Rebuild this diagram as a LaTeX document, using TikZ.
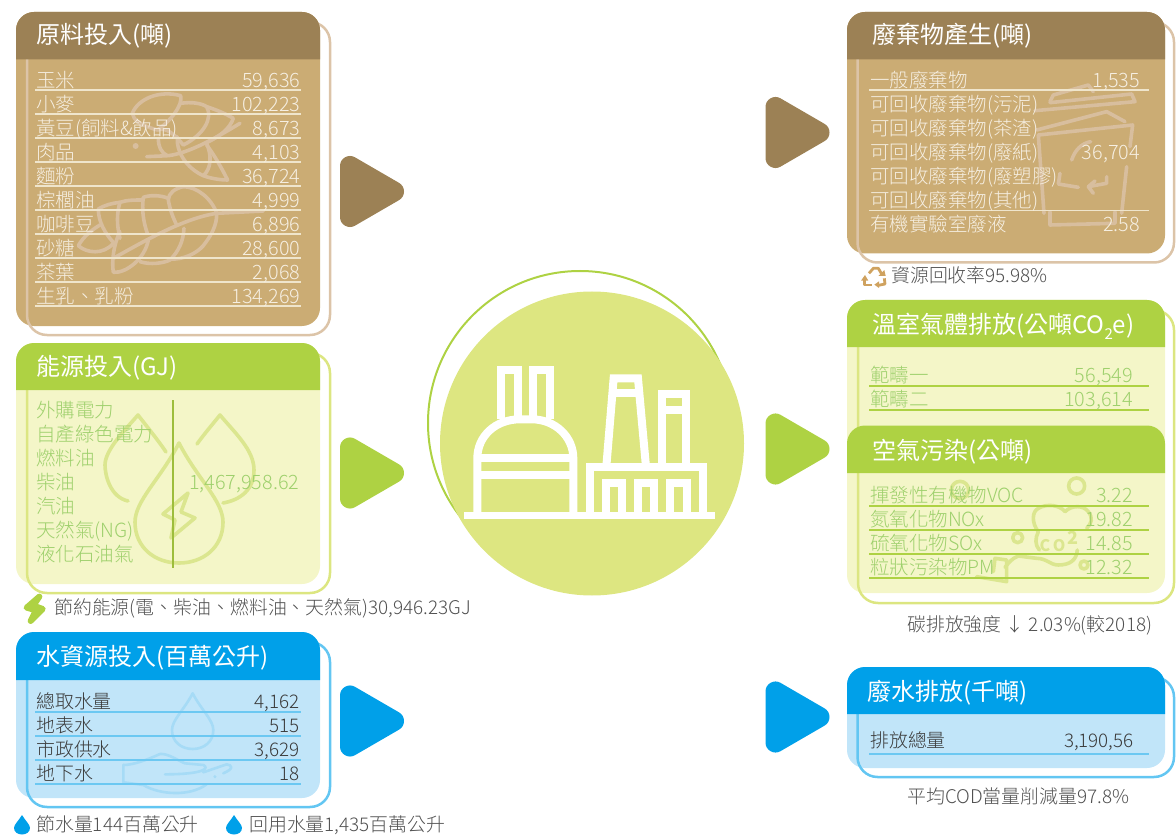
\documentclass[tikz,border=0pt]{standalone}
\usepackage{fontspec}
\usetikzlibrary{calc}
\setmainfont{Noto Sans CJK TC Light}
\newfontfamily\hdfont{Noto Sans CJK TC}
\definecolor{brH}{HTML}{9C8155}\definecolor{brB}{HTML}{CBAC74}\definecolor{brO}{HTML}{DCC4A8}\definecolor{brW}{HTML}{D8BE9E}\definecolor{brT}{HTML}{F6EFE2}\definecolor{brL}{HTML}{EFE5CC}
\definecolor{grH}{HTML}{AED243}\definecolor{grB}{HTML}{F4F6C8}\definecolor{grO}{HTML}{DCE681}\definecolor{grW}{HTML}{DBE68F}\definecolor{grT}{HTML}{9ED06C}\definecolor{grL}{HTML}{AED243}
\definecolor{blH}{HTML}{00A0E9}\definecolor{blB}{HTML}{C1E5F9}\definecolor{blO}{HTML}{63C6F2}\definecolor{blW}{HTML}{A6DBF6}\definecolor{blT}{HTML}{3A3A3A}\definecolor{blL}{HTML}{6CC8F2}
\definecolor{circ}{HTML}{DDE681}\definecolor{gtxt}{HTML}{505050}\definecolor{recy}{HTML}{CFA25F}
\newcommand{\panelbg}[8]{%
  \fill[#1,rounded corners=18pt] (#2,#4) rectangle (#3,#5);
  \draw[#8,line width=2.5pt,rounded corners=20pt] (#6,{#4+10}) rectangle (#7,{#5+9});}
\newcommand{\headbar}[5]{\fill[#1] (#2,#5) [rounded corners=18pt] -- (#2,#4) -- (#3,#4) [sharp corners] -- (#3,#5) -- cycle;}
\newcommand{\tri}[3]{\draw[#1,fill=#1,line width=20pt,line join=round] ({#2+10},{#3-25.5}) -- ({#2+54},#3) -- ({#2+10},{#3+25.5}) -- cycle;}
\newcommand{\dropp}[4]{({#1},{#2}) .. controls ({#1+.42*#3},{#2+.3*#4}) and ({#1+#3},{#2+.48*#4}) .. ({#1+#3},{#2+.66*#4}) .. controls ({#1+#3},{#2+.87*#4}) and ({#1+.55*#3},{#2+#4}) .. ({#1},{#2+#4}) .. controls ({#1-.55*#3},{#2+#4}) and ({#1-#3},{#2+.87*#4}) .. ({#1-#3},{#2+.66*#4}) .. controls ({#1-#3},{#2+.48*#4}) and ({#1-.42*#3},{#2+.3*#4}) .. ({#1},{#2}) -- cycle}
\begin{document}
\begin{tikzpicture}[x=1pt,y=-1pt,
  lab/.style={anchor=base west,inner sep=0pt,font=\fontsize{19.5}{21}\selectfont},
  val/.style={anchor=base east,inner sep=0pt,font=\fontsize{19.8}{21}\selectfont},
  blab/.style={anchor=base west,inner sep=0pt,text=blT,font=\fontsize{18.9}{21}\selectfont},
  bval/.style={anchor=base east,inner sep=0pt,text=blT,font=\fontsize{18.8}{21}\selectfont},
  head/.style={anchor=base west,inner sep=0pt,text=white,font=\hdfont\fontsize{24}{26}\selectfont},
  note/.style={anchor=base west,inner sep=0pt,text=gtxt,font=\fontsize{18.9}{21}\selectfont},
  zs/.style={x=.3333pt,y=-.3333pt},
  wm/.style={line width=3.6pt,line join=round,line cap=round}]
\useasboundingbox (0,0) rectangle (1176,837);

% ---------- raw materials
\panelbg{brB}{16}{320}{12}{326}{27}{330}{brO}
\begin{scope}[shift={(70,85)},zs,brW,wm]
  \draw (230,215) -- (295,212) .. controls (350,205) and (420,170) .. (510,115);
  \draw (262,135) .. controls (210,120) and (190,105) .. (187,85) .. controls (205,40) and (270,15) .. (332,32) .. controls (340,60) and (300,110) .. (262,135);
  \draw (332,55) .. controls (365,50) and (395,55) .. (410,65) .. controls (430,100) and (400,150) .. (340,180) .. controls (315,150) and (290,125) .. (262,135);
  \draw (410,65) .. controls (440,75) and (465,85) .. (490,100) .. controls (480,130) and (450,155) .. (405,175);
  \draw (265,160) .. controls (265,185) and (275,205) .. (292,212);
  \draw (322,155) .. controls (318,200) and (350,250) .. (400,272) .. controls (425,250) and (425,210) .. (410,175);
  \draw (410,180) .. controls (440,220) and (460,260) .. (473,285) .. controls (450,285) and (420,280) .. (400,272);
  \fill (197,183) circle[radius=9];
  \draw (580,378) -- (440,385) .. controls (340,400) and (220,470) .. (130,520);
  \draw (440,385) .. controls (425,340) and (380,305) .. (340,305) .. controls (315,310) and (295,325) .. (295,345) .. controls (300,375) and (310,400) .. (320,420);
  \draw (295,340) .. controls (270,330) and (240,330) .. (220,337) .. controls (215,375) and (220,410) .. (232,445);
  \draw (220,345) .. controls (195,345) and (170,345) .. (150,352) .. controls (140,385) and (140,420) .. (150,460);
  \draw (150,352) .. controls (125,355) and (105,360) .. (85,372) .. controls (85,410) and (105,445) .. (130,472);
  \draw (90,420) .. controls (65,435) and (40,455) .. (25,482) .. controls (50,505) and (100,510) .. (130,475);
  \draw (150,440) .. controls (130,480) and (125,530) .. (130,562) .. controls (170,565) and (225,520) .. (235,465);
  \draw (210,530) .. controls (240,540) and (280,535) .. (300,525) .. controls (325,500) and (340,470) .. (342,430);
  \draw (300,522) .. controls (340,525) and (380,505) .. (400,482) .. controls (425,450) and (440,420) .. (440,390);
\end{scope}
\headbar{brH}{16}{320}{12}{59.5}
\node[head] (h1) at (36,43.5) {原料投入(噸)};
\foreach \i/\l/\v in {1/玉米/{59,636},2/小麥/{102,223},3/黃豆(飼料\&飲品)/{8,673},4/肉品/{4,103},5/麵粉/{36,724},6/棕櫚油/{4,999},7/咖啡豆/{6,896},8/砂糖/{28,600},9/茶葉/{2,068},10/生乳、乳粉/{134,269}}{
  \pgfmathsetmacro\yy{66+24*\i}
  \draw[brL,line width=1.5pt] (35,\yy) -- (301,\yy);
  \node[lab,text=brT] (ml\i) at (36,{\yy-2.5}) {\l};
  \node[val,text=brT] (mv\i) at (300.5,{\yy-2.5}) {\v};
}
\tri{brH}{340}{191.5}

% ---------- energy
\panelbg{grB}{16}{320}{343}{584}{27}{330}{grO}
\begin{scope}[grW,wm]
  \draw \dropp{179}{443}{44}{120};
  \draw (128,501) .. controls (110,497) and (105,475) .. (105,465) .. controls (105,450) and (125,430) .. (138,415) .. controls (148,428) and (158,440) .. (166,452);
  \draw (197,444) .. controls (205,433) and (212,425) .. (220,415) .. controls (235,433) and (254,450) .. (254,470) .. controls (254,490) and (240,500) .. (223,503);
  \draw (188,493) -- (163,514) -- (175,520) -- (171,538) -- (195,518) -- (181,512) -- cycle;
\end{scope}
\headbar{grH}{16}{320}{343}{390}
\node[head] (h2) at (36,375.5) {能源投入(GJ)};
\foreach \i/\l in {1/外購電力,2/自產綠色電力,3/燃料油,4/柴油,5/汽油,6/天然氣(NG),7/液化石油氣}{
  \pgfmathsetmacro\yy{393.5+24*\i}
  \node[lab,text=grT] (el\i) at (36,\yy) {\l};
}
\node[val,text=grT] (ev) at (299.5,489.5) {1,467,958.62};
\draw[grL!90!black,line width=1.5pt] (173,400) -- (173,567.5);
\tri{grH}{340}{473}
\begin{scope}[shift={(0,335)},zs]
  \draw[grH,fill=grH,line width=6pt,line join=round] (118,785) -- (80,818) -- (108,826) -- (92,858) -- (128,822) -- (100,812) -- cycle;
\end{scope}
\node[note] (n1) at (54,614.5) {節約能源(電、柴油、燃料油、天然氣)30,946.23GJ};

% ---------- water
\panelbg{blB}{16}{320}{632}{798}{27}{330}{blO}
\begin{scope}[shift={(110,685)},zs,blW,wm,line width=2.6pt]
  \draw \dropp{248}{25}{62}{167};
  \draw (40,240) .. controls (70,240) and (110,225) .. (150,207) .. controls (175,205) and (200,225) .. (225,235) -- (280,240) .. controls (300,250) and (280,268) .. (165,268);
  \draw (280,262) -- (350,238) .. controls (365,240) and (375,250) .. (340,265);
  \draw (40,240) -- (40,292) -- (100,300) .. controls (150,330) and (240,335) .. (290,298);
  \fill (315,275) circle[radius=5];
\end{scope}
\headbar{blH}{16}{320}{632}{680}
\node[head] (h3) at (36,665.5) {水資源投入(百萬公升)};
\foreach \i/\l/\v in {1/總取水量/{4,162},2/地表水/515,3/市政供水/{3,629},4/地下水/18}{
  \pgfmathsetmacro\yy{688+24*\i}
  \draw[blL,line width=1.5pt] (35,\yy) -- (301,\yy);
  \node[blab] (wl\i) at (36,{\yy-3.5}) {\l};
  \node[bval] (wv\i) at (300,{\yy-3.5}) {\v};
}
\tri{blH}{340}{721}
\fill[blH] \dropp{22}{815}{8}{19.5};
\node[note] (n2) at (36,831) {節水量144百萬公升};
\fill[blH] \dropp{234}{815}{8}{19.5};
\node[note] (n3) at (249,831) {回用水量1,435百萬公升};

% ---------- centre
\draw[grH,line width=2pt] (580,423) circle[radius=152];
\fill[circ] (592,443.5) circle[radius=152];
\begin{scope}[shift={(420,260)},zs,white,line width=8pt,line join=miter]
  \fill (133,755) rectangle (885,778);
  \draw (172,760) -- (172,595) .. controls (172,530) and (225,478) .. (300,478) -- (335,478) .. controls (405,478) and (460,530) .. (460,595) -- (460,760);
  \draw (172,595) -- (460,595);
  \draw (172,645) -- (460,645);
  \draw (243.5,478) -- (243.5,331.5) -- (293,331.5) -- (293,470);
  \draw (340,470) -- (340,331.5) -- (390,331.5) -- (390,478);
  \draw (509,760) -- (509,620) -- (848,620) -- (848,760);
  \foreach \a/\b in {557/606,654/702,750/800}{\draw (\a,760) -- (\a,669) -- (\b,669) -- (\b,760);}
  \draw (559,620) -- (581,355) -- (654,355) -- (678,620);
  \draw (578,400) -- (656,400);
  \draw (725,620) -- (725,402) -- (798,402) -- (798,620);
  \draw (725,450) -- (798,450);
\end{scope}

% ---------- waste
\panelbg{brB}{847}{1165}{12}{253.5}{857.5}{1174}{brO}
\begin{scope}[shift={(1000,80)},zs,brW,wm]
  \draw (105,92) -- (405,65) -- (395,42) -- (150,68);
  \draw (150,65) -- (160,45) -- (265,15) -- (280,35);
  \draw (110,150) -- (320,95) -- (375,125);
  \draw (115,165) -- (398,135) -- (390,200);
  \draw (380,260) -- (365,400);
  \draw (115,165) -- (132,400);
  \draw (150,395) -- (150,435) -- (345,430) -- (345,395);
  \draw (215,240) .. controls (225,210) and (245,190) .. (272,185);
  \draw (180,280) -- (175,312) -- (235,322);
  \draw (320,290) -- (320,310) -- (265,320);
  \draw (285,303) -- (265,320) -- (280,340);
\end{scope}
\headbar{brH}{847}{1165}{12}{59.5}
\node[head] (h4) at (872,43.5) {廢棄物產生(噸)};
\draw[brL,line width=1.5pt] (869,90) -- (1148.5,90);
\draw[brL,line width=1.5pt] (869,210.5) -- (1148.5,210.5);
\foreach \i/\l in {1/一般廢棄物,2/可回收廢棄物(污泥),3/可回收廢棄物(茶渣),4/可回收廢棄物(廢紙),5/可回收廢棄物(廢塑膠),6/可回收廢棄物(其他),7/有機實驗室廢液}{
  \pgfmathsetmacro\yy{63.5+24*\i}
  \node[lab,text=brT] (rl\i) at (870,\yy) {\l};
}
\node[val,text=brT] (rv1) at (1140,87.5) {1,535};
\node[val,text=brT] (rv2) at (1140,159.5) {36,704};
\node[val,text=brT] (rv3) at (1140,231.5) {2.58};
\tri{brH}{765.5}{132.5}
\begin{scope}[shift={(855,260)},zs,recy,line width=2.8pt,line join=round]
  \draw (42,40) -- (55,25) -- (70,25) -- (80,42);
  \fill (70,48) -- (92,48) -- (88,30) -- cycle;
  \draw (28,58) -- (28,75) -- (50,75);
  \fill (18,62) -- (40,62) -- (30,45) -- cycle;
  \draw (88,55) -- (90,72) -- (70,76);
  \fill (72,64) -- (72,84) -- (58,74) -- cycle;
\end{scope}
\node[note] (n4) at (891,282.5) {資源回收率95.98\%};

% ---------- GHG + air
\fill[grB,rounded corners=18pt] (847,300) rectangle (1165,593);
\draw[grO,line width=2.5pt,rounded corners=20pt] (858,310) rectangle (1174,603);
\begin{scope}[shift={(930,470)},zs,grW,wm]
  \draw (440,48) circle[radius=24];
  \draw (263,203) circle[radius=15];
  \draw (462,285) circle[radius=12];
  \draw (90,60) circle[radius=26];
  \draw (325,185) .. controls (305,160) and (305,125) .. (325,115) .. controls (350,100) and (390,105) .. (405,125) .. controls (425,105) and (460,105) .. (475,125) .. controls (490,145) and (485,160) .. (470,175);
  \draw (325,185) .. controls (315,205) and (315,225) .. (328,240);
  \draw (442,240) .. controls (440,270) and (420,285) .. (385,285) .. controls (360,285) and (350,265) .. (320,265) -- (265,258) .. controls (245,265) and (235,280) .. (225,292);
  \draw (140,320) -- (230,335) -- (230,270) -- (195,265) -- (190,305);
\end{scope}
\node[text=grW,inner sep=0pt,font=\hdfont\bfseries\fontsize{16}{18}\selectfont] (co) at (1059,541.5) {C\,O\raisebox{7pt}{\kern2pt\fontsize{18}{18}\selectfont 2}};
\headbar{grH}{847}{1165}{300}{347}
\node[head] (h5) at (872,333.5) {溫室氣體排放(公噸CO\raisebox{-6pt}{\fontsize{15}{15}\selectfont 2}e)};
\foreach \i/\l/\v/\yy in {1/範疇一/{56,549}/386,2/範疇二/{103,614}/410}{
  \draw[grL,line width=1.5pt] (869,\yy) -- (1148.5,\yy);
  \node[lab,text=grT] (gl\i) at (870,{\yy-3.5}) {\l};
  \node[val,text=grT] (gv\i) at (1133,{\yy-3.5}) {\v};
}
\headbar{grH}{847}{1165}{425.5}{473}
\node[head] (h6) at (872,459) {空氣污染(公噸)};
\foreach \i/\l/\v in {1/揮發性有機物VOC/3.22,2/氮氧化物NOx/19.82,3/硫氧化物SOx/14.85,4/粒狀污染物PM/12.32}{
  \pgfmathsetmacro\yy{482+24*\i}
  \draw[grL,line width=1.5pt] (869,\yy) -- (1148.5,\yy);
  \node[lab,text=grT] (al\i) at (870,{\yy-3.5}) {\l};
  \node[val,text=grT] (av\i) at (1133,{\yy-3.5}) {\v};
}
\tri{grH}{765.5}{449}
\node[note] (n5) at (907,631.5) {碳排放強度 ↓ 2.03\%(較2018)};

% ---------- waste water
\panelbg{blB}{847}{1165}{667}{768}{857.5}{1174}{blO}
\headbar{blH}{847}{1165}{667}{714}
\node[head] (h7) at (867,700.5) {廢水排放(千噸)};
\draw[blL,line width=1.5pt] (869,754) -- (1148.5,754);
\node[blab] (pl) at (870,747) {排放總量};
\node[bval] (pv) at (1134,747) {3,190,56};
\tri{blH}{765.5}{717}
\node[note] (n6) at (907,803) {平均COD當量削減量97.8\%};
\end{tikzpicture}
\end{document}
